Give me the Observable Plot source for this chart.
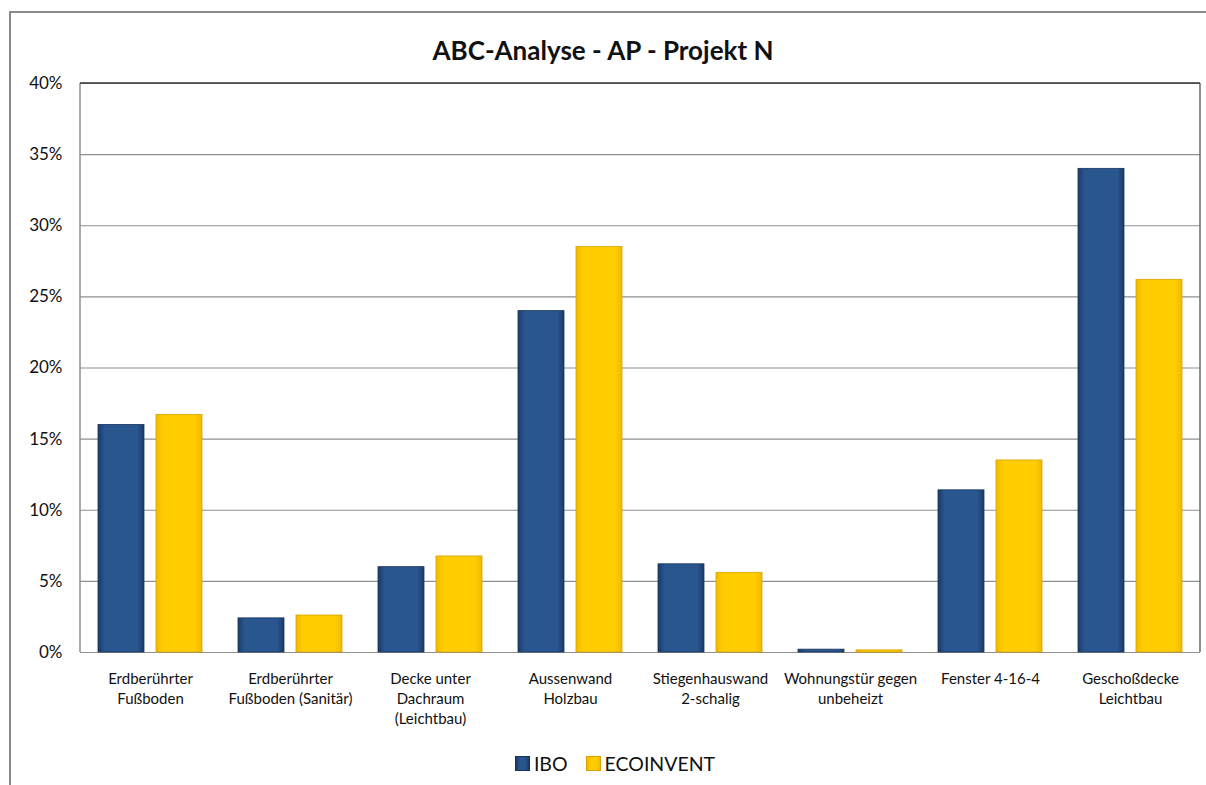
<!DOCTYPE html>
<html><head><meta charset="utf-8">
<script src="https://cdn.jsdelivr.net/npm/d3@7"></script>
<script src="https://cdn.jsdelivr.net/npm/@observablehq/plot@0.6"></script>
<style>
body{margin:0;background:#fff;font-family:Lato,"Open Sans",sans-serif;overflow:hidden}
#wrap{position:relative;width:1206px;height:785px;overflow:hidden}
#frame{position:absolute;left:9px;top:11px;width:1300px;height:900px;border:2px solid #8a8a8a;box-sizing:border-box}
#title{position:absolute;top:34px;left:0;width:1206px;text-align:center;font-weight:bold;font-size:26px;color:#111}
#chart{position:absolute;left:0;top:0}
#legend{position:absolute;top:752px;left:12px;width:1206px;display:flex;justify-content:center;align-items:center;font-size:19.5px;color:#111}
.item{display:flex;align-items:center;margin:0 9px}
.sw{width:15px;height:15px;margin-right:4px;box-sizing:border-box}
</style></head>
<body><div id="wrap"><div id="frame"></div><div id="title">ABC-Analyse - AP - Projekt N</div><div id="chart"></div><div id="legend"></div></div>
<script>
const categories = ["Erdberührter\nFußboden", "Erdberührter\nFußboden (Sanitär)", "Decke unter\nDachraum\n(Leichtbau)", "Aussenwand\nHolzbau", "Stiegenhauswand\n2-schalig", "Wohnungstür gegen\nunbeheizt", "Fenster 4-16-4", "Geschoßdecke\nLeichtbau"];
const series = ["IBO", "ECOINVENT"];
const ibo = [0.160, 0.024, 0.060, 0.240, 0.062, 0.002, 0.114, 0.340];
const ecoinvent = [0.167, 0.026, 0.0675, 0.285, 0.056, 0.0015, 0.135, 0.262];
const yTicks = [0, 0.05, 0.10, 0.15, 0.20, 0.25, 0.30, 0.35, 0.40];

const colors = {IBO: {edge: "#1b3b68", mid: "#2a5690", stroke: "#18345c"}, ECOINVENT: {edge: "#f2b800", mid: "#ffcd00", stroke: "#d9a200"}};
const gid = {IBO: "gIBO", ECOINVENT: "gECO"};

const data = [];
categories.forEach((c, i) => {
  data.push({category: c, series: "IBO", value: ibo[i]});
  data.push({category: c, series: "ECOINVENT", value: ecoinvent[i]});
});

const mL = 80, mR = 6, mT = 83, mB = 93, W = 1206, H = 745;
const plot = Plot.plot({
  width: W, height: H,
  marginLeft: mL, marginRight: mR, marginTop: mT, marginBottom: mB,
  style: {fontFamily: "Lato, 'Open Sans', sans-serif", color: "#111", background: "transparent"},
  fx: {domain: categories, padding: 0, label: null},
  x: {domain: series, paddingInner: 0.207, paddingOuter: 0.31, axis: null},
  y: {domain: [0, 0.4], label: null},
  marks: [
    Plot.gridY(yTicks, {stroke: "#8f8f8f", strokeOpacity: 1, strokeWidth: 1.2}),
    ...series.map(s => Plot.barY(data.filter(d => d.series === s), {
      fx: "category", x: "series", y: "value",
      fill: `url(#${gid[s]})`, stroke: colors[s].stroke, strokeWidth: 0.8
    })),
    Plot.axisY(yTicks, {tickFormat: d3.format(".0%"), tickSize: 0, tickPadding: 18, fontSize: 17, label: null}),
    Plot.axisFx({anchor: "bottom", tickSize: 0, tickPadding: 17, fontSize: 15, lineHeight: 1.33, label: null})
  ]
});

const svg = d3.select(plot);
const defs = svg.insert("defs", ":first-child");
series.forEach(s => {
  const g = defs.append("linearGradient").attr("id", gid[s]).attr("x1", 0).attr("x2", 1).attr("y1", 0).attr("y2", 0);
  [[0, colors[s].edge], [0.15, colors[s].mid], [0.85, colors[s].mid], [1, colors[s].edge]].forEach(([o, c]) =>
    g.append("stop").attr("offset", o).attr("stop-color", c));
});
// plot-area border
const border = svg.append("g");
border.append("line").attr("x1", mL).attr("x2", mL).attr("y1", mT).attr("y2", H - mB).attr("stroke", "#8f8f8f").attr("stroke-width", 1.5);
border.append("line").attr("x1", W - mR).attr("x2", W - mR).attr("y1", mT).attr("y2", H - mB).attr("stroke", "#6a6a6a").attr("stroke-width", 1.5);
border.append("line").attr("x1", mL).attr("x2", W - mR).attr("y1", mT).attr("y2", mT).attr("stroke", "#333").attr("stroke-width", 1.5);

document.getElementById("chart").append(plot);

const legend = d3.select("#legend");
series.forEach(s => {
  const it = legend.append("div").attr("class", "item");
  it.append("div").attr("class", "sw")
    .style("background", `linear-gradient(90deg, ${colors[s].edge}, ${colors[s].mid} 30%, ${colors[s].mid} 70%, ${colors[s].edge})`)
    .style("border", `1px solid ${colors[s].stroke}`);
  it.append("span").text(s);
});
</script></body></html>
